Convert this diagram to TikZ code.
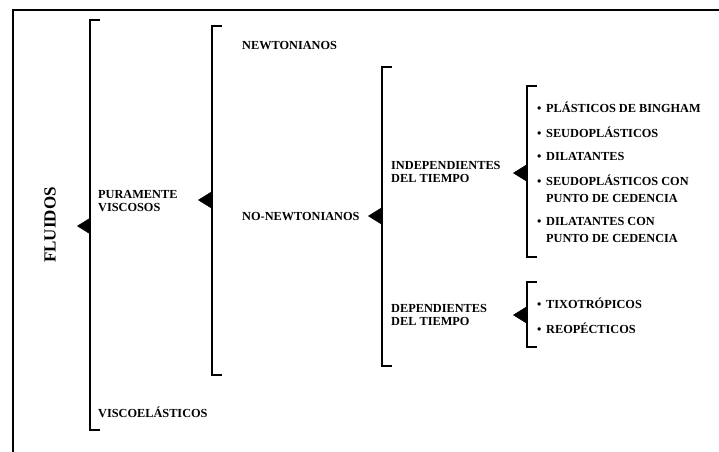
\documentclass[tikz,border=0pt]{standalone}
\usepackage{fontspec}
\setmainfont{Liberation Serif}
\usetikzlibrary{arrows.meta}
\tikzset{
  lbl/.style={font=\bfseries\fontsize{12.3}{13.5}\selectfont, inner sep=0pt, anchor=west, align=left},
  itm/.style={font=\bfseries\fontsize{12.3}{16.6}\selectfont, inner sep=0pt, anchor=west, align=left},
  brk/.style={line width=1.3pt, line cap=butt, line join=miter},
  tri/.style={line width=0.4pt, -{Triangle[length=13pt,width=16pt]}},
  frame/.style={line width=1.4pt}
}
\newcommand{\bul}{\makebox[9pt][l]{•}}
\begin{document}
\begin{tikzpicture}[x=1pt,y=-1pt]
\useasboundingbox (0,0) rectangle (719,451);
\fill[white] (0,0) rectangle (719,451);
\draw[frame] (13,452) -- (13,10) -- (720,10);

% level 0
\node[font=\bfseries\fontsize{17}{19}\selectfont, rotate=90, inner sep=0pt] (fluidos) at (50,225) {FLUIDOS};

% bracket 1
\draw[brk] (100,20) -- (90,20) -- (90,430) -- (100,430);
\coordinate (b1) at (90,226);
\coordinate (t1) at (77,226);
\draw[tri] (b1) -- (t1);
\node[lbl] (pura) at (98,201) {PURAMENTE\\VISCOSOS};
\node[lbl] (visco) at (98,412) {VISCOELÁSTICOS};

% bracket 2
\draw[brk] (222,26) -- (212,26) -- (212,375) -- (222,375);
\coordinate (b2) at (212,200);
\coordinate (t2) at (198,200);
\draw[tri] (b2) -- (t2);
\node[lbl] (newt) at (242,46) {NEWTONIANOS};
\node[lbl] (nonewt) at (242,217) {NO-NEWTONIANOS};

% bracket 3
\draw[brk] (392,67) -- (382,67) -- (382,366) -- (392,366);
\coordinate (b3) at (382,216);
\coordinate (t3) at (368,216);
\draw[tri] (b3) -- (t3);
\node[lbl] (indep) at (391,172) {INDEPENDIENTES\\DEL TIEMPO};
\node[lbl] (dep) at (391,315) {DEPENDIENTES\\DEL TIEMPO};

% bracket 4
\draw[brk] (537,86) -- (527,86) -- (527,257) -- (537,257);
\coordinate (b4) at (527,173);
\coordinate (t4) at (513,173);
\draw[tri] (b4) -- (t4);
\node[itm] (i1) at (537,107) {\bul PLÁSTICOS DE BINGHAM};
\node[itm] (i2) at (537,132) {\bul SEUDOPLÁSTICOS};
\node[itm] (i3) at (537,156) {\bul DILATANTES};
\node[itm] (i4) at (537,189) {\bul SEUDOPLÁSTICOS CON\\\hspace*{9pt}PUNTO DE CEDENCIA};
\node[itm] (i5) at (537,230) {\bul DILATANTES CON\\\hspace*{9pt}PUNTO DE CEDENCIA};

% bracket 5
\draw[brk] (537,282) -- (527,282) -- (527,347) -- (537,347);
\coordinate (b5) at (527,315);
\coordinate (t5) at (513,315);
\draw[tri] (b5) -- (t5);
\node[itm] (j1) at (537,303) {\bul TIXOTRÓPICOS};
\node[itm] (j2) at (537,328) {\bul REOPÉCTICOS};
\end{tikzpicture}
\end{document}
